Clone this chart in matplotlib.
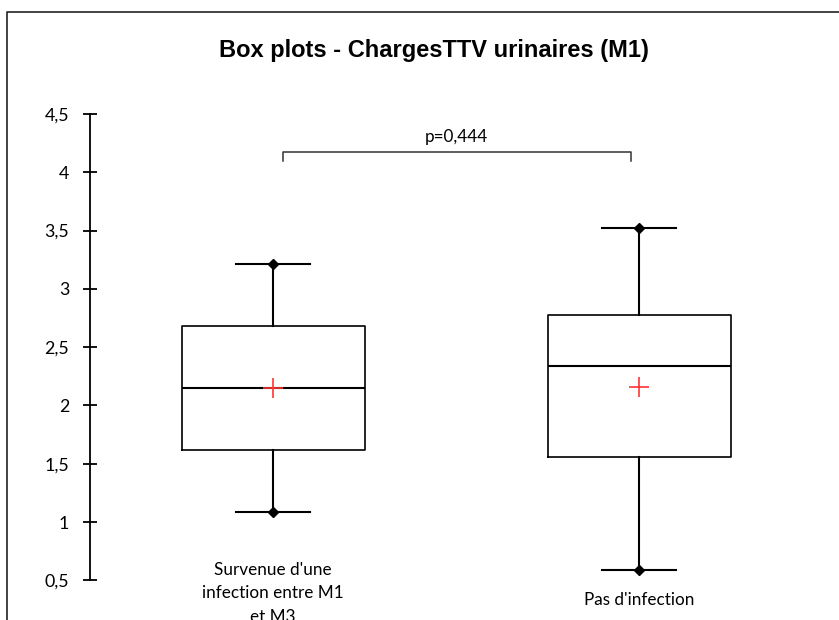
import matplotlib.pyplot as plt
from matplotlib.lines import Line2D

# box plot summaries for the two groups
groups = ["Survenue d'une\ninfection entre M1\net M3", "Pas d'infection"]
whislo = [1.09, 0.59]
q1 = [1.62, 1.56]
median = [2.15, 2.34]
mean = [2.15, 2.16]
q3 = [2.68, 2.78]
whishi = [3.21, 3.52]
p_value = 0.444
yticks = [0.5, 1, 1.5, 2, 2.5, 3, 3.5, 4, 4.5]

label_font = ['Lato', 'DejaVu Sans']

fig = plt.figure(figsize=(8.39, 6.2), dpi=100)
ax = fig.add_axes([90 / 839, 1 - 580.3 / 620, 732 / 839, (580.3 - 114) / 620])

stats = []
for i in range(len(groups)):
    stats.append(dict(med=median[i], q1=q1[i], q3=q3[i], whislo=whislo[i],
                      whishi=whishi[i], mean=mean[i]))

positions = [1, 2]
line = dict(color='black', linewidth=1.2)
ax.bxp(stats, positions=positions, widths=0.5, capwidths=0.2,
       showmeans=True, showfliers=False,
       boxprops=line, whiskerprops=dict(color='black', linewidth=1.5),
       capprops=dict(color='black', linewidth=1.5),
       medianprops=dict(color='black', linewidth=1.5),
       meanprops=dict(marker='+', markeredgecolor='#ff3333',
                      markersize=15, markeredgewidth=1.2))

# diamonds at the whisker ends
ax.plot(positions, whislo, 'D', color='black', markersize=5, linestyle='none')
ax.plot(positions, whishi, 'D', color='black', markersize=5, linestyle='none')

ax.set_xlim(0.5, 2.5)
ax.set_ylim(0.5, 4.5)
ax.set_yticks(yticks)
ax.set_yticklabels([f'{t:g}'.replace('.', ',') for t in yticks],
                   family=label_font, fontsize=12.8)
ax.tick_params(axis='y', direction='inout', length=10, width=1.3, pad=10)
ax.tick_params(axis='x', length=0, labelbottom=False)
for side in ['top', 'right', 'bottom']:
    ax.spines[side].set_visible(False)
ax.spines['left'].set_linewidth(1.3)

# group labels under the boxes
ax.annotate(groups[0], xy=(1, 0), xycoords=ax.get_xaxis_transform(),
            xytext=(0, -9.5), textcoords='offset points', ha='center',
            va='center', family=label_font, fontsize=12.3, linespacing=1.6,
            annotation_clip=False)
ax.annotate(groups[1], xy=(2, 0), xycoords=ax.get_xaxis_transform(),
            xytext=(0, -14.5), textcoords='offset points', ha='center',
            va='center', family=label_font, fontsize=12.3,
            annotation_clip=False)

# significance bracket
bx = [positions[0] + 0.027, positions[1] - 0.023]
ax.plot([bx[0], bx[0], bx[1], bx[1]], [4.10, 4.17, 4.17, 4.10],
        color='#333333', linewidth=1.1, clip_on=False)
ax.text(sum(bx) / 2, 4.30, 'p=' + f'{p_value:.3f}'.replace('.', ','),
        ha='center', va='center', family=label_font, fontsize=12.3)

fig.text(434 / 839, 1 - 50 / 620, 'Box plots - ChargesTTV urinaires (M1)',
         ha='center', va='center', family='Liberation Sans',
         fontweight='bold', fontsize=17)

# outer frame
fig.add_artist(Line2D([7 / 839, 7 / 839, 1.0], [0, 1 - 12 / 620, 1 - 12 / 620],
                      transform=fig.transFigure, color='#222222', linewidth=1.2))

fig.savefig('out.png', dpi=100)
